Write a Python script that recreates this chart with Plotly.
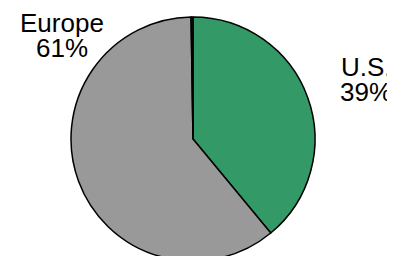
import plotly.graph_objects as go

# Data
labels = ["U.S.", "Europe", "Other"]
values = [39.0, 60.75, 0.25]
colors = ["#339966", "#999999", "#1a1a1a"]
shown_labels = ["U.S.", "Europe"]

total = sum(values)
pct = {lab: round(v / total * 100) for lab, v in zip(labels, values)}

W, H = 395, 256
OFF = 8  # page body margin offset in the browser

def px(x):
    return (x - OFF) / W

def py(y):
    return 1 - (y - OFF) / H

# pie: centre (193, 139), radius 122 in reference pixels
cx, cy, r = 193, 139, 122
fig = go.Figure(
    go.Pie(
        labels=labels,
        values=values,
        sort=False,
        direction="clockwise",
        rotation=0,
        marker=dict(colors=colors, line=dict(color="black", width=1.5)),
        textinfo="none",
        hoverinfo="label+percent",
        showlegend=False,
        domain=dict(x=[px(cx - r - 10), px(cx + r + 10)], y=[py(cy + r), py(cy - r)]),
    )
)

# label placement (reference pixel centres): (x, name-line y, percent-line y)
label_pos = {"Europe": (62, 22.5, 47.5), "U.S.": (366, 66.7, 92.0)}

font = dict(family="Liberation Sans, Arial, sans-serif", size=26, color="black")
annotations = []
for lab in shown_labels:
    x, y1, y2 = label_pos[lab]
    annotations.append(dict(text=lab, x=px(x), y=py(y1), xref="paper", yref="paper",
                            xanchor="center", yanchor="middle", showarrow=False, font=font))
    annotations.append(dict(text=f"{pct[lab]}%", x=px(x), y=py(y2), xref="paper", yref="paper",
                            xanchor="center", yanchor="middle", showarrow=False, font=font))

fig.update_layout(
    width=W,
    height=H,
    margin=dict(l=0, r=0, t=0, b=0),
    paper_bgcolor="white",
    plot_bgcolor="white",
    annotations=annotations,
)

fig.write_html("out.html")
